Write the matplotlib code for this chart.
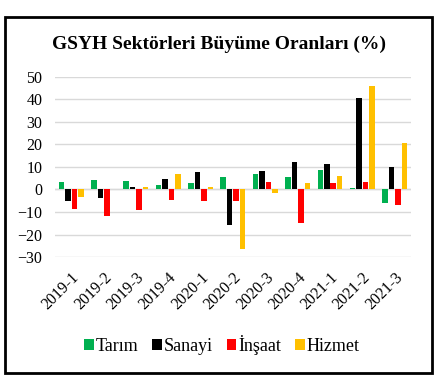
import matplotlib
matplotlib.use("Agg")
import matplotlib.pyplot as plt
import numpy as np
from matplotlib.patches import Rectangle

categories = ["2019-1", "2019-2", "2019-3", "2019-4", "2020-1", "2020-2",
              "2020-3", "2020-4", "2021-1", "2021-2", "2021-3"]
tarim = [3.2, 4.1, 3.7, 2.1, 3.0, 5.3, 6.8, 5.6, 8.4, 0.7, -5.9]
sanayi = [-5.2, -4.0, 1.0, 4.6, 7.7, -15.6, 8.1, 12.1, 11.5, 40.4, 10.0]
insaat = [-8.7, -12.0, -9.1, -4.6, -5.2, -5.3, 3.2, -15.0, 2.9, 3.2, -6.8]
hizmet = [-3.4, 0.0, 1.2, 6.9, 1.2, -26.5, -1.6, 2.8, 6.0, 45.7, 20.6]

series = [("Tarım", tarim, "#00B050"), ("Sanayi", sanayi, "#000000"),
          ("İnşaat", insaat, "#FF0000"), ("Hizmet", hizmet, "#FFC000")]

plt.rcParams['font.family'] = ['Liberation Serif', 'DejaVu Serif']

fig = plt.figure(figsize=(4.41, 3.78), dpi=100)
ax = fig.add_axes([0.1247, 0.320, 0.807, 0.477])

x = np.arange(len(categories))
w = 0.2
for i, (name, vals, col) in enumerate(series):
    ax.bar(x + (i - 1.5) * w, vals, width=w * 0.85, color=col, label=name, zorder=3)

ax.set_xlim(-0.5, len(categories) - 0.5)
ax.set_ylim(-30, 50)
ax.set_yticks(np.arange(-30, 51, 10))
ax.yaxis.grid(True, color="#D9D9D9", linewidth=1.0, zorder=0)
ax.axhline(0, color="#D9D9D9", linewidth=1.0, zorder=1)
for s in ax.spines.values():
    s.set_visible(False)
ax.tick_params(axis='both', length=0, labelsize=11.5)
ax.tick_params(axis='y', pad=9)
ax.tick_params(axis='x', pad=9)
ax.set_xticks(x)
ax.set_xticklabels(categories, rotation=45, ha='right', rotation_mode='anchor')

fig.text(0.497, 1 - 44 / 378, "GSYH Sektörleri Büyüme Oranları (%)",
         ha='center', va='center', fontsize=14, fontweight='bold')

fig.legend(loc='center', bbox_to_anchor=(0.503, 1 - 345 / 378), ncol=4,
           frameon=False, fontsize=13, handlelength=0.55, handleheight=0.55,
           handletextpad=0.1, columnspacing=0.75)

fig.patches.append(Rectangle((5 / 441, 5 / 378), 427 / 441, 356 / 378,
                             transform=fig.transFigure, fill=False,
                             edgecolor='black', linewidth=2.0))

fig.savefig("out.png", dpi=100)
